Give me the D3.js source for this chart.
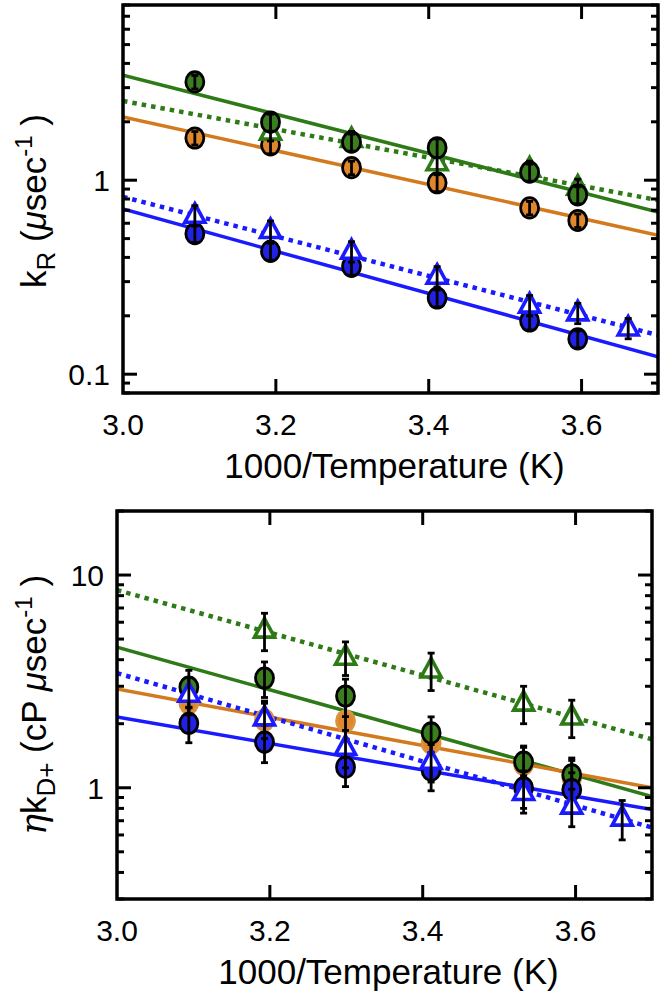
<!DOCTYPE html>
<html><head><meta charset="utf-8">
<script src="https://cdn.jsdelivr.net/npm/d3@7"></script>
<style>
body{margin:0;background:#fff}
text{font-family:"Liberation Sans",Arial,Helvetica,sans-serif;fill:#000}
</style>
</head><body><svg id="c" width="664" height="996"></svg>
<script>
// ---- data ----
const xVals = [3.094, 3.193, 3.299, 3.411, 3.532, 3.595, 3.661];   // 1000/T
const xTicks = [3.0, 3.2, 3.4, 3.6];
const xTickLabels = ["3.0", "3.2", "3.4", "3.6"];

// top panel: k_R (usec^-1)
const kR_yTicks = [0.1, 1];
const kR_yTickLabels = ["0.1", "1"];
const kR_greenCircle = [3.21, 1.99, 1.57, 1.47, 1.10, 0.84];
const kR_greenTri    = [null, 1.77, 1.62, 1.23, 1.14, 0.92];
const kR_orangeCircle= [1.65, 1.52, 1.16, 0.97, 0.72, 0.62];
const kR_blueCircle  = [0.53, 0.43, 0.36, 0.247, 0.188, 0.152];
const kR_blueTri     = [0.66, 0.55, 0.43, 0.32, 0.227, 0.207, 0.173];
const kR_greenCircleErr = [0.08, 0.10, 0.10, 0.11, 0.10, 0.10];
const kR_greenTriErr    = [0, 0.10, 0.10, 0.12, 0.10, 0.10];
const kR_orangeCircleErr= [0.08, 0.10, 0.08, 0.10, 0.08, 0.08];
const kR_blueCircleErr  = [0.10, 0.10, 0.10, 0.10, 0.10, 0.10];
const kR_blueTriErr     = [0.12, 0.12, 0.12, 0.12, 0.12, 0.12, 0.12];
// fit lines: values at x = 3.0 and x = 3.7
const kR_fitX = [3.0, 3.7];
const kR_greenFit   = [3.48, 0.686];
const kR_greenDotFit= [2.56, 0.79];
const kR_orangeFit  = [2.12, 0.52];
const kR_blueFit    = [0.71, 0.123];
const kR_blueDotFit = [0.82, 0.159];

// bottom panel: eta*k_D+ (cP usec^-1)
const eta_yTicks = [1, 10];
const eta_yTickLabels = ["1", "10"];
const eta_greenTri    = [null, 5.51, 4.11, 3.58, 2.50, 2.15];
const eta_greenCircle = [2.97, 3.28, 2.70, 1.81, 1.32, 1.15];
const eta_orangeCircle= [2.50, 2.08, 2.06, 1.62, 1.29, 1.12];
const eta_blueCircle  = [2.01, 1.64, 1.25, 1.21, 1.00, 0.98];
const eta_blueTri     = [2.75, 2.13, 1.55, 1.33, 0.95, 0.82, 0.72];
const eta_greenTriErr    = [0, 0.20, 0.18, 0.20, 0.20, 0.20];
const eta_greenCircleErr = [0.20, 0.19, 0.20, 0.19, 0.19, 0.20];
const eta_orangeCircleErr= [0.20, 0.20, 0.20, 0.20, 0.20, 0.20];
const eta_blueCircleErr  = [0.19, 0.20, 0.19, 0.20, 0.20, 0.20];
const eta_blueTriErr     = [0.20, 0.20, 0.20, 0.20, 0.20, 0.20, 0.21];
const eta_fitX = [3.0, 3.7];
const eta_greenDotFit = [8.5, 1.69];
const eta_greenFit    = [4.58, 0.91];
const eta_orangeFit   = [2.91, 1.00];
const eta_blueFit     = [2.15, 0.79];
const eta_blueDotFit  = [3.46, 0.65];

// ---- styles ----
const GREEN = "#2d7a16", GREEN_FILL = "#3b7e20";
const ORANGE = "#d37a1f", ORANGE_FILL = "#e0862c";
const BLUE = "#1a1aff", BLUE_FILL = "#2222e6";

const svg = d3.select("#c");

function drawPanel(p) {
  const g = svg.append("g");
  const x = d3.scaleLinear().domain([3.0, 3.7]).range([p.left, p.right]);
  const y = d3.scaleLog().domain(p.yDomain).range([p.bottom, p.top]);

  const clip = "clip" + p.id;
  svg.append("clipPath").attr("id", clip).append("rect")
    .attr("x", p.left).attr("y", p.top).attr("width", p.right - p.left).attr("height", p.bottom - p.top);
  const plot = g.append("g").attr("clip-path", `url(#${clip})`);

  // fit lines
  p.fits.forEach(f => {
    plot.append("path")
      .datum(p.fitX.map((xv, i) => [xv, f.v[i]]))
      .attr("d", d3.line().x(d => x(d[0])).y(d => y(d[1])))
      .attr("fill", "none").attr("stroke", f.color)
      .attr("stroke-width", f.dotted ? 4.5 : 3.5)
      .attr("stroke-dasharray", f.dotted ? "4.5,5" : null);
  });

  // markers + error bars
  p.series.forEach(s => {
    const pts = s.v.map((v, i) => ({x: xVals[i], v, e: s.err[i]})).filter(d => d.v != null);
    const mg = plot.append("g");
    if (s.shape === "circle") {
      mg.selectAll("ellipse").data(pts).join("ellipse")
        .attr("cx", d => x(d.x)).attr("cy", d => y(d.v))
        .attr("rx", 9).attr("ry", 10.2)
        .attr("fill", s.fill).attr("stroke", s.stroke).attr("stroke-width", 2.8);
    } else {
      mg.selectAll("path").data(pts).join("path")
        .attr("transform", d => `translate(${x(d.x)},${y(d.v)})`)
        .attr("d", "M0,-11.5L10,7L-10,7Z")
        .attr("fill", "#fff").attr("stroke", s.stroke).attr("stroke-width", 3.6)
        .attr("stroke-linejoin", "miter");
    }
    const eg = plot.append("g").attr("stroke", "#000").attr("stroke-width", 2.8);
    pts.forEach(d => {
      const y1 = y(d.v * (1 + d.e)), y2 = y(d.v * (1 - d.e)), cx = x(d.x);
      eg.append("line").attr("x1", cx).attr("x2", cx).attr("y1", y1).attr("y2", y2);
      eg.append("line").attr("x1", cx - 3.5).attr("x2", cx + 3.5).attr("y1", y1).attr("y2", y1);
      eg.append("line").attr("x1", cx - 3.5).attr("x2", cx + 3.5).attr("y1", y2).attr("y2", y2);
    });
  });

  // frame
  g.append("rect").attr("x", p.left).attr("y", p.top)
    .attr("width", p.right - p.left).attr("height", p.bottom - p.top)
    .attr("fill", "none").attr("stroke", "#000").attr("stroke-width", 3.5);

  const tg = g.append("g").attr("stroke", "#000").attr("stroke-width", 3);
  // x ticks (top and bottom, inward)
  xTicks.slice(1).forEach(t => {
    const xx = x(t);
    tg.append("line").attr("x1", xx).attr("x2", xx).attr("y1", p.bottom).attr("y2", p.bottom - 14);
    tg.append("line").attr("x1", xx).attr("x2", xx).attr("y1", p.top).attr("y2", p.top + 14);
  });
  // y ticks (log major + minor)
  const [lo, hi] = p.yDomain;
  for (let e = Math.floor(Math.log10(lo)); e <= Math.ceil(Math.log10(hi)); e++) {
    for (let m = 1; m <= 9; m++) {
      const v = m * Math.pow(10, e);
      if (v < lo * 0.999 || v > hi * 1.001) continue;
      const yy = y(v), len = m === 1 ? 14 : 7;
      tg.append("line").attr("x1", p.left).attr("x2", p.left + len).attr("y1", yy).attr("y2", yy);
      tg.append("line").attr("x1", p.right).attr("x2", p.right - len).attr("y1", yy).attr("y2", yy);
    }
  }

  // tick labels
  xTicks.forEach((t, i) => {
    g.append("text").attr("x", x(t)).attr("y", p.bottom + 42)
      .attr("text-anchor", "middle").attr("font-size", 30).text(xTickLabels[i]);
  });
  p.yTicks.forEach((t, i) => {
    g.append("text").attr("x", p.left - 13).attr("y", y(t) + 11)
      .attr("text-anchor", "end").attr("font-size", 30).text(p.yTickLabels[i]);
  });

  // x title
  g.append("text").attr("x", (p.left + p.right) / 2 + 4).attr("y", p.bottom + 85)
    .attr("text-anchor", "middle").attr("font-size", 35).text("1000/Temperature (K)");

  // y title
  const yt = g.append("text").attr("transform", `translate(${p.ylabX},${p.ylabY}) rotate(-90)`)
    .attr("text-anchor", "middle").attr("font-size", 35);
  p.ylabel(yt);
}

drawPanel({
  id: "top", left: 123, right: 658, top: 5, bottom: 393, yDomain: [0.08, 8],
  yTicks: kR_yTicks, yTickLabels: kR_yTickLabels,
  fitX: kR_fitX,
  fits: [
    {v: kR_greenFit, color: GREEN}, {v: kR_greenDotFit, color: GREEN, dotted: true},
    {v: kR_orangeFit, color: ORANGE}, {v: kR_blueFit, color: BLUE},
    {v: kR_blueDotFit, color: BLUE, dotted: true}
  ],
  series: [
    {v: kR_orangeCircle, err: kR_orangeCircleErr, shape: "circle", fill: ORANGE_FILL, stroke: "#000"},
    {v: kR_blueCircle, err: kR_blueCircleErr, shape: "circle", fill: BLUE_FILL, stroke: "#000"},
    {v: kR_blueTri, err: kR_blueTriErr, shape: "tri", stroke: BLUE},
    {v: kR_greenTri, err: kR_greenTriErr, shape: "tri", stroke: GREEN},
    {v: kR_greenCircle, err: kR_greenCircleErr, shape: "circle", fill: GREEN_FILL, stroke: "#000"}
  ],
  ylabX: 46, ylabY: 201,
  ylabel: t => {
    t.append("tspan").text("k");
    t.append("tspan").attr("font-size", 26).attr("dy", 9).text("R");
    t.append("tspan").attr("dy", -9).text(" (");
    t.append("tspan").attr("font-style", "italic").text("\u03bc");
    t.append("tspan").text("sec");
    t.append("tspan").attr("font-size", 24).attr("dy", -14).text("-1");
    t.append("tspan").attr("dy", 14).text(" )");
  }
});

drawPanel({
  id: "bot", left: 117, right: 652, top: 511, bottom: 899, yDomain: [0.3, 20],
  yTicks: eta_yTicks, yTickLabels: eta_yTickLabels,
  fitX: eta_fitX,
  fits: [
    {v: eta_greenDotFit, color: GREEN, dotted: true}, {v: eta_greenFit, color: GREEN},
    {v: eta_orangeFit, color: ORANGE}, {v: eta_blueFit, color: BLUE},
    {v: eta_blueDotFit, color: BLUE, dotted: true}
  ],
  series: [
    {v: eta_orangeCircle, err: eta_orangeCircleErr, shape: "circle", fill: ORANGE_FILL, stroke: "#d9923f"},
    {v: eta_greenCircle, err: eta_greenCircleErr, shape: "circle", fill: GREEN_FILL, stroke: "#000"},
    {v: eta_blueCircle, err: eta_blueCircleErr, shape: "circle", fill: BLUE_FILL, stroke: "#000"},
    {v: eta_blueTri, err: eta_blueTriErr, shape: "tri", stroke: BLUE},
    {v: eta_greenTri, err: eta_greenTriErr, shape: "tri", stroke: GREEN}
  ],
  ylabX: 46, ylabY: 705,
  ylabel: t => {
    t.append("tspan").attr("font-family", "DejaVu Serif").attr("font-style", "italic").text("\u03b7");
    t.append("tspan").text("k");
    t.append("tspan").attr("font-size", 26).attr("dy", 9).text("D+");
    t.append("tspan").attr("dy", -9).text(" (cP ");
    t.append("tspan").attr("font-style", "italic").text("\u03bc");
    t.append("tspan").text("sec");
    t.append("tspan").attr("font-size", 24).attr("dy", -14).text("-1");
    t.append("tspan").attr("dy", 14).text(" )");
  }
});
</script>
</body></html>
